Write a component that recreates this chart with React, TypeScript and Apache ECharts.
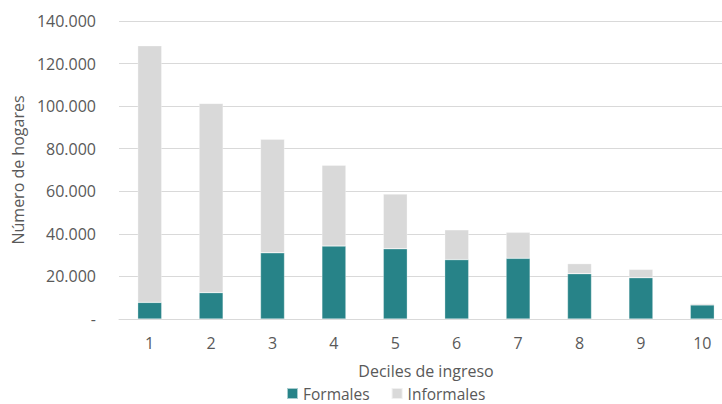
import React, { useEffect, useRef } from "react";
import * as echarts from "echarts";

const categories = ["1", "2", "3", "4", "5", "6", "7", "8", "9", "10"];
const formales = [7800, 12400, 31100, 34300, 33000, 27900, 28500, 21300, 19400, 6600];
const informales = [120600, 88900, 53400, 37900, 25700, 14000, 12200, 4700, 3900, 600];
const seriesNames = ["Formales", "Informales"];
const xTitle = "Deciles de ingreso";
const yTitle = "Número de hogares";

const FONT = "'Open Sans', sans-serif";
const TXT = "#595959";

function fmt(v: number): string {
  if (v === 0) return "-";
  const s = Math.round(v).toString();
  return s.replace(/\B(?=(\d{3})+(?!\d))/g, ".");
}

export default function App() {
  const ref = useRef<HTMLDivElement>(null);
  useEffect(() => {
    if (!ref.current) return;
    const chart = echarts.init(ref.current, undefined, { renderer: "svg" });
    chart.setOption({
      animation: false,
      backgroundColor: "#ffffff",
      textStyle: { fontFamily: FONT },
      grid: { left: 119, right: -11, top: 21, bottom: 85, outerBoundsMode: "none" },
      legend: {
        left: 286,
        top: 385,
        padding: 0,
        itemWidth: 11,
        itemHeight: 11,
        itemGap: 21,
        icon: "rect",
        data: seriesNames,
        textStyle: { fontFamily: FONT, fontSize: 15.5, lineHeight: 17, color: TXT, padding: [0, 0, 0, 0] },
      },
      xAxis: {
        type: "category",
        data: categories,
        name: xTitle,
        nameLocation: "middle",
        nameGap: 44,
        nameTextStyle: { fontFamily: FONT, fontSize: 16, color: TXT },
        axisLine: { show: true, lineStyle: { color: "#d9d9d9", width: 1 } },
        axisTick: { show: false },
        axisLabel: { fontFamily: FONT, fontSize: 16, color: TXT, margin: 16 },
      },
      yAxis: {
        type: "value",
        min: 0,
        max: 140000,
        interval: 20000,
        name: yTitle,
        nameLocation: "middle",
        nameGap: 89,
        nameRotate: 90,
        nameTextStyle: { fontFamily: FONT, fontSize: 16, color: TXT },
        axisLine: { show: false },
        axisTick: { show: false },
        axisLabel: { fontFamily: FONT, fontSize: 16, color: TXT, margin: 23, formatter: (v: number) => fmt(v) },
        splitLine: { show: true, lineStyle: { color: "#d9d9d9", width: 1 } },
      },
      series: [
        {
          name: seriesNames[0],
          type: "bar",
          stack: "total",
          data: formales,
          barWidth: 24,
          itemStyle: { color: "#278388", borderColor: "rgba(255,255,255,0.6)", borderWidth: 0.5 },
        },
        {
          name: seriesNames[1],
          type: "bar",
          stack: "total",
          data: informales,
          barWidth: 24,
          itemStyle: { color: "#d9d9d9", borderColor: "rgba(255,255,255,0.6)", borderWidth: 0.5 },
        },
      ],
    });
    return () => chart.dispose();
  }, []);
  return <div ref={ref} style={{ position: "absolute", left: 0, top: 0, width: 722, height: 404 }} />;
}
